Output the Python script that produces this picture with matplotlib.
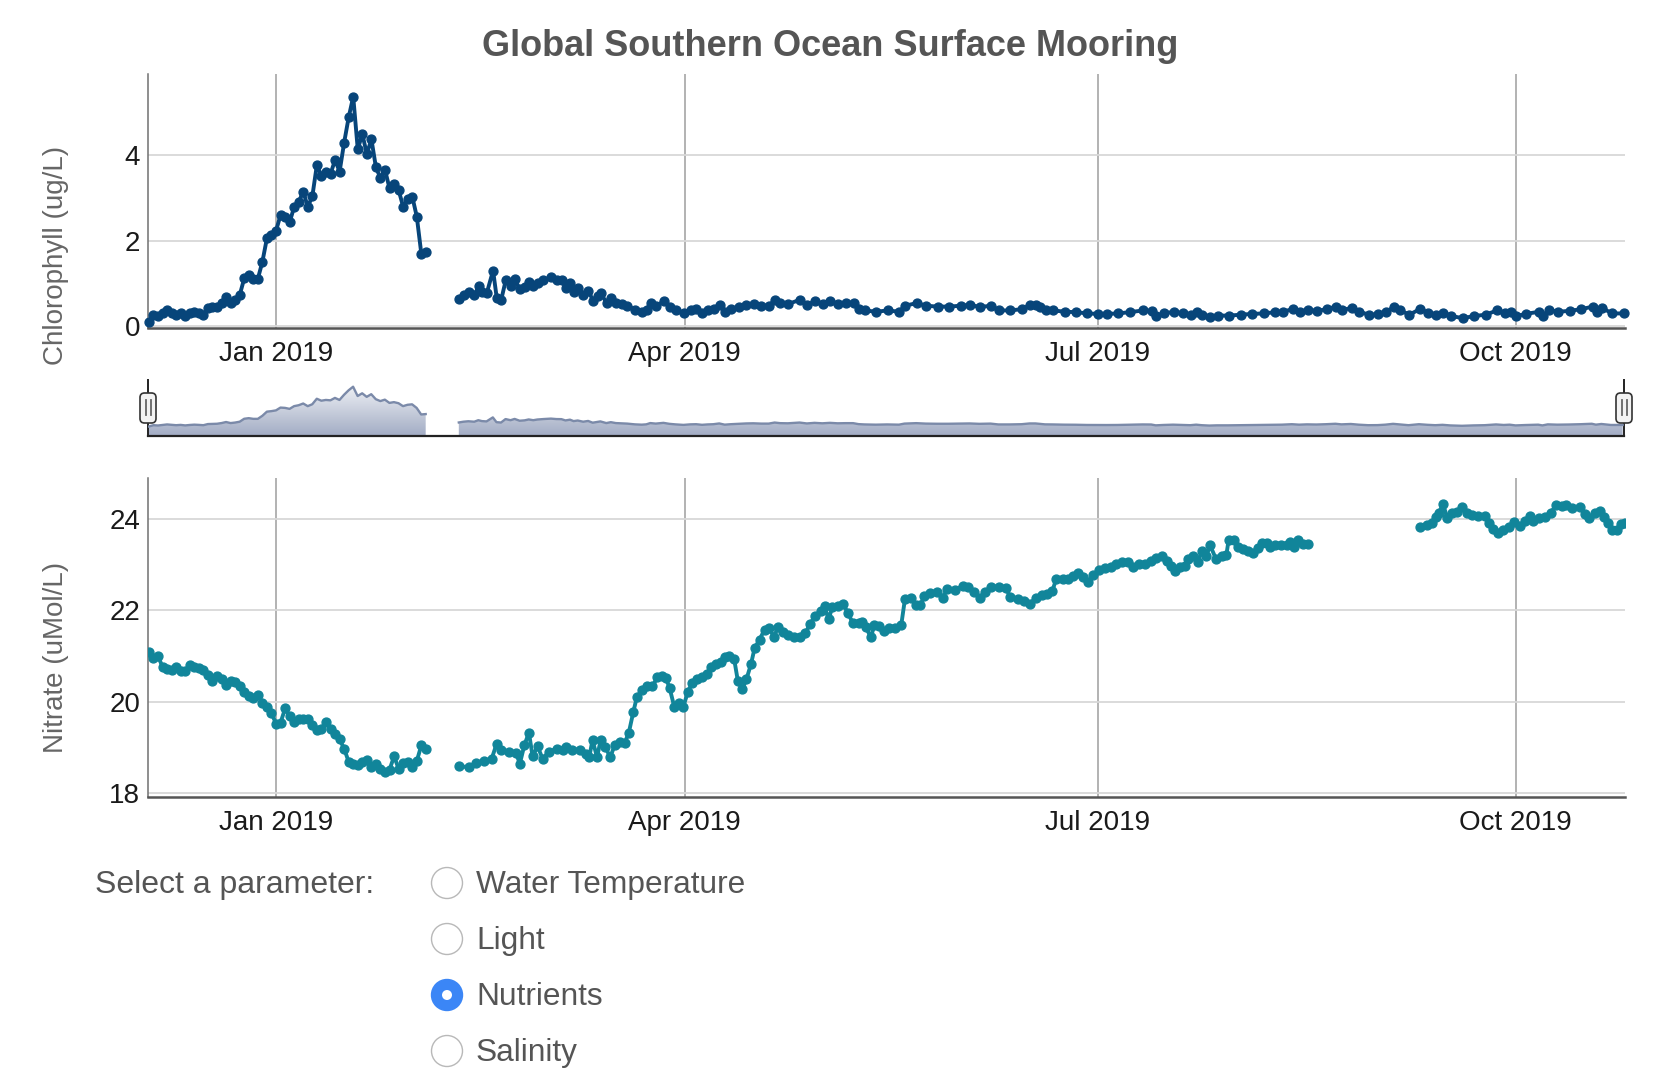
import matplotlib
matplotlib.use("Agg")
import matplotlib.pyplot as plt
import matplotlib.dates as mdates
import numpy as np
import pandas as pd
from matplotlib.colors import LinearSegmentedColormap
from matplotlib.lines import Line2D
from matplotlib.patches import Circle, FancyBboxPatch
from matplotlib.path import Path

plt.rcParams["font.family"] = ["Liberation Sans", "DejaVu Sans"]

# days are counted from 2019-01-01
chl_seg1_day = list(range(-28, 34))
chl_seg1_val = [0.10, 0.27, 0.23, 0.30, 0.37, 0.32, 0.27, 0.31, 0.24, 0.30,
                0.34, 0.31, 0.27, 0.42, 0.44, 0.46, 0.55, 0.69, 0.55, 0.62,
                0.73, 1.12, 1.20, 1.11, 1.11, 1.51, 2.06, 2.13, 2.23, 2.60,
                2.56, 2.43, 2.79, 2.91, 3.14, 2.79, 3.04, 3.77, 3.51, 3.61,
                3.56, 3.88, 3.61, 4.29, 4.88, 5.36, 4.13, 4.49, 4.02, 4.37,
                3.71, 3.46, 3.65, 3.22, 3.32, 3.18, 2.79, 2.97, 3.03, 2.56,
                1.69, 1.74]
chl_seg2_day = [40.3, 41.3, 42.4, 43.7, 44.6, 45.4, 46.4, 47.8, 48.6, 49.6,
                50.6, 51.7, 52.6, 53.7, 54.8, 55.7, 56.7, 57.6, 58.9, 60.6,
                61.8, 62.9, 63.8, 64.8, 65.6, 66.5, 67.7, 68.8, 69.8, 70.9,
                71.5, 72.8, 73.8, 74.9, 76.2, 77.4, 79.1, 80.6, 81.6, 82.5,
                83.7, 85.4, 86.7, 88.0, 89.8, 91.3, 92.6, 93.9, 95.1, 96.4,
                97.7, 98.9, 100.2, 101.9, 103.6, 105.2, 106.9, 108.6, 109.9, 111.1,
                112.8, 115.4, 117.0, 118.7, 120.4, 122.1, 123.8, 125.5, 127.2, 128.4,
                129.7, 132.2, 134.7, 137.3, 138.5, 141.1, 143.2, 145.7, 148.2, 150.8,
                152.9, 155.0, 157.5, 159.2, 161.7, 164.3, 166.1, 167.4, 168.2, 169.5,
                171.2, 173.7, 176.2, 178.7, 181.0, 183.0, 185.5, 188.0, 191.0, 192.9,
                193.9, 195.6, 197.7, 199.8, 201.5, 202.8, 204.0, 205.7, 207.4, 209.9,
                212.5, 215.0, 217.5, 220.1, 221.7, 223.9, 225.5, 227.2, 229.3, 231.4,
                233.5, 234.8, 236.9, 238.6, 240.7, 242.8, 244.5, 246.2, 247.5, 249.6,
                251.9, 253.8, 255.5, 257.1, 258.8, 261.4, 263.9, 266.4, 268.9, 270.6,
                271.9, 273.2, 275.3, 278.2, 279.1, 280.3, 282.4, 284.9, 287.5, 290.0,
                290.9, 292.1, 294.2, 296.8]
chl_seg2_val = [0.63, 0.73, 0.79, 0.73, 0.93, 0.81, 0.77, 1.30, 0.67, 0.62,
                1.08, 0.93, 1.10, 0.86, 0.91, 1.03, 0.93, 1.02, 1.08, 1.14,
                1.08, 1.07, 0.90, 1.00, 0.81, 0.89, 0.73, 0.83, 0.60, 0.71,
                0.77, 0.55, 0.67, 0.55, 0.52, 0.48, 0.38, 0.34, 0.38, 0.55,
                0.48, 0.58, 0.45, 0.38, 0.31, 0.38, 0.40, 0.32, 0.37, 0.40,
                0.50, 0.34, 0.40, 0.45, 0.50, 0.52, 0.48, 0.48, 0.62, 0.54,
                0.52, 0.62, 0.50, 0.58, 0.52, 0.58, 0.52, 0.54, 0.54, 0.41,
                0.37, 0.34, 0.37, 0.34, 0.48, 0.54, 0.48, 0.46, 0.46, 0.48,
                0.50, 0.45, 0.48, 0.37, 0.37, 0.40, 0.50, 0.50, 0.45, 0.38,
                0.37, 0.34, 0.33, 0.30, 0.29, 0.29, 0.30, 0.33, 0.37, 0.36,
                0.25, 0.30, 0.34, 0.30, 0.27, 0.34, 0.27, 0.22, 0.25, 0.25,
                0.27, 0.29, 0.30, 0.33, 0.34, 0.40, 0.34, 0.38, 0.36, 0.40,
                0.46, 0.38, 0.43, 0.34, 0.27, 0.28, 0.34, 0.45, 0.38, 0.27,
                0.40, 0.32, 0.27, 0.32, 0.24, 0.19, 0.24, 0.27, 0.37, 0.30,
                0.34, 0.24, 0.29, 0.34, 0.24, 0.38, 0.34, 0.36, 0.40, 0.46,
                0.34, 0.43, 0.30, 0.30]

nit_seg1_day = list(range(-28, 34))
nit_seg1_val = [21.09, 20.95, 21.00, 20.76, 20.71, 20.69, 20.76, 20.67, 20.68, 20.80,
                20.76, 20.73, 20.69, 20.58, 20.46, 20.56, 20.49, 20.36, 20.45, 20.42,
                20.35, 20.21, 20.13, 20.07, 20.14, 19.98, 19.89, 19.74, 19.52, 19.54,
                19.85, 19.68, 19.56, 19.62, 19.61, 19.62, 19.48, 19.38, 19.41, 19.56,
                19.39, 19.30, 19.17, 18.97, 18.68, 18.63, 18.61, 18.68, 18.73, 18.57,
                18.64, 18.53, 18.46, 18.51, 18.80, 18.53, 18.66, 18.68, 18.57, 18.70,
                19.04, 18.97]
nit_seg2_day = [40.3, 42.4, 44.1, 45.8, 47.5, 48.6, 49.6, 51.3, 52.8, 53.7,
                54.7, 55.7, 56.5, 57.6, 58.7, 60.1, 61.8, 63.1, 63.9, 65.2,
                66.9, 68.2, 69.0, 69.7, 70.7, 71.5, 72.5, 73.6, 74.6, 75.7,
                76.8, 77.7, 78.7, 79.5, 80.6, 81.8, 82.9, 84.0, 85.0, 85.9,
                86.7, 87.7, 88.8, 89.7, 90.7, 91.6, 92.8, 93.9, 94.9, 95.8,
                97.0, 98.1, 98.9, 99.8, 100.9, 101.7, 102.7, 103.6, 104.6, 105.4,
                106.5, 107.6, 108.6, 109.7, 110.5, 111.6, 112.8, 114.1, 115.4, 116.6,
                117.7, 118.7, 120.0, 120.8, 121.7, 122.5, 123.8, 124.9, 125.9, 127.0,
                128.3, 129.1, 129.9, 131.0, 131.8, 132.9, 133.9, 135.0, 136.4, 137.7,
                138.5, 139.8, 140.9, 141.9, 142.8, 144.0, 145.5, 146.8, 147.8, 149.5,
                151.2, 152.5, 153.7, 155.0, 156.2, 157.5, 159.2, 160.7, 161.7, 163.4,
                164.7, 166.1, 167.4, 168.6, 169.9, 171.0, 171.8, 173.3, 174.5, 175.5,
                176.6, 177.7, 178.9, 180.0, 181.3, 182.5, 183.8, 185.1, 186.3, 187.6,
                188.7, 190.1, 191.4, 192.7, 193.9, 195.2, 196.3, 197.1, 198.0, 199.0,
                200.1, 200.8, 201.9, 203.0, 203.9, 204.9, 205.7, 207.0, 208.3, 209.3,
                209.8, 211.0, 211.8, 212.9, 214.1, 215.2, 216.3, 217.1, 218.2, 219.0,
                220.1, 221.3, 222.6, 223.4, 224.3, 225.1, 226.1, 227.2]
nit_seg2_val = [18.59, 18.56, 18.66, 18.70, 18.75, 19.08, 18.94, 18.89, 18.88, 18.64,
                19.05, 19.32, 18.80, 19.02, 18.75, 18.90, 18.97, 18.95, 19.01, 18.94,
                18.95, 18.85, 18.79, 19.16, 18.78, 19.16, 19.01, 18.78, 19.05, 19.12,
                19.10, 19.32, 19.78, 20.11, 20.25, 20.34, 20.34, 20.53, 20.56, 20.51,
                20.29, 19.89, 19.97, 19.89, 20.21, 20.40, 20.49, 20.54, 20.60, 20.76,
                20.82, 20.87, 20.97, 21.00, 20.93, 20.46, 20.27, 20.49, 20.82, 21.17,
                21.36, 21.58, 21.61, 21.41, 21.64, 21.53, 21.46, 21.41, 21.41, 21.51,
                21.71, 21.88, 21.99, 22.09, 21.80, 22.07, 22.09, 22.14, 21.95, 21.73,
                21.72, 21.75, 21.63, 21.41, 21.68, 21.65, 21.55, 21.61, 21.62, 21.68,
                22.24, 22.26, 22.12, 22.12, 22.31, 22.39, 22.41, 22.28, 22.46, 22.45,
                22.53, 22.52, 22.41, 22.26, 22.41, 22.52, 22.52, 22.50, 22.29, 22.24,
                22.21, 22.15, 22.28, 22.34, 22.36, 22.43, 22.68, 22.68, 22.68, 22.75,
                22.82, 22.72, 22.63, 22.77, 22.88, 22.92, 22.96, 23.01, 23.05, 23.07,
                22.96, 23.01, 23.02, 23.09, 23.15, 23.18, 23.09, 22.97, 22.86, 22.96,
                22.97, 23.12, 23.18, 23.07, 23.29, 23.18, 23.43, 23.13, 23.19, 23.21,
                23.54, 23.54, 23.39, 23.34, 23.29, 23.26, 23.36, 23.48, 23.48, 23.39,
                23.43, 23.43, 23.43, 23.50, 23.39, 23.54, 23.45, 23.45]
nit_seg3_day = [251.9, 253.4, 254.6, 255.5, 256.1, 257.0, 258.0, 259.1, 260.1, 261.1,
                262.2, 263.5, 264.7, 266.2, 267.1, 268.1, 269.1, 270.2, 271.5, 272.7,
                274.0, 275.0, 276.1, 276.9, 278.2, 279.5, 280.7, 282.0, 283.3, 284.1,
                285.4, 287.1, 288.2, 289.2, 290.4, 291.7, 292.5, 293.4, 294.2, 295.3,
                296.3, 297.2]
nit_seg3_val = [23.82, 23.87, 23.91, 24.05, 24.13, 24.33, 24.02, 24.14, 24.16, 24.26,
                24.14, 24.09, 24.07, 24.07, 23.91, 23.78, 23.69, 23.75, 23.82, 23.93,
                23.85, 23.96, 24.07, 23.96, 24.02, 24.05, 24.14, 24.31, 24.29, 24.31,
                24.24, 24.26, 24.11, 24.02, 24.14, 24.18, 24.05, 23.91, 23.75, 23.75,
                23.89, 23.91]

month_ticks = ["2019-01-01", "2019-04-01", "2019-07-01", "2019-10-01"]
chl_ticks = [0, 2, 4]
nit_ticks = [18, 20, 22, 24]
options = ["Water Temperature", "Light", "Nutrients", "Salinity"]
selected = "Nutrients"

CHL = "#07457a"
NIT = "#11859a"
W, H = 1676, 1090


def to_dates(days):
    return pd.Timestamp("2019-01-01") + pd.to_timedelta(np.asarray(days, float), unit="D")


def box(l, t, r, b):
    return [l / W, 1 - b / H, (r - l) / W, (b - t) / H]


x_lo = pd.Timestamp("2019-01-01") - pd.Timedelta(days=28.2)
x_hi = pd.Timestamp("2019-01-01") + pd.Timedelta(days=297.1)

fig = plt.figure(figsize=(W / 100, H / 100), dpi=100)
ax1 = fig.add_axes(box(148, 74, 1625, 328))
ax2 = fig.add_axes(box(148, 478, 1625, 797))
axn = fig.add_axes(box(148, 380, 1624, 436))


def style(ax, ticks, ylim, pad):
    ax.set_xlim(x_lo, x_hi)
    ax.set_ylim(*ylim)
    ax.set_yticks(ticks)
    ax.set_xticks(pd.to_datetime(month_ticks))
    ax.xaxis.set_major_formatter(mdates.DateFormatter("%b %Y"))
    ax.tick_params(length=0, labelsize=20, colors="#1a1a1a")
    ax.tick_params(axis="x", pad=pad)
    ax.tick_params(axis="y", pad=5.5)
    for s in ["top", "right"]:
        ax.spines[s].set_visible(False)
    ax.spines["left"].set_color("#707070")
    ax.spines["left"].set_linewidth(1.1)
    ax.spines["bottom"].set_color("#555555")
    ax.spines["bottom"].set_linewidth(1.8)
    ax.grid(axis="y", color="#d8d8d8", lw=1.3)
    ax.grid(axis="x", color="#adadad", lw=1.3)
    ax.set_axisbelow(True)


style(ax1, chl_ticks, (-0.04, 5.89), 9.5)
style(ax2, nit_ticks, (17.91, 24.90), 9.0)

for d, v in [(chl_seg1_day, chl_seg1_val), (chl_seg2_day, chl_seg2_val)]:
    ax1.plot(to_dates(d), v, color=CHL, lw=2.8, marker="o", ms=6.4, clip_on=False, zorder=3)
for d, v in [(nit_seg1_day, nit_seg1_val), (nit_seg2_day, nit_seg2_val),
             (nit_seg3_day, nit_seg3_val)]:
    ax2.plot(to_dates(d), v, color=NIT, lw=2.8, marker="o", ms=6.4, zorder=3)

# navigator strip
nav_lo, nav_hi = -1.16, 6.25
paths = []
for d, v in [(chl_seg1_day, chl_seg1_val), (chl_seg2_day, chl_seg2_val)]:
    xn = mdates.date2num(to_dates(d))
    poly = axn.fill_between(xn, v, nav_lo, facecolor="none", edgecolor="none")
    paths += poly.get_paths()
    axn.plot(xn, v, color="#7b8aa9", lw=1.7, zorder=3)
cmap = LinearSegmentedColormap.from_list("nav", ["#a2acc4", "#eff1f5"])
im = axn.imshow(np.linspace(0, 1, 256).reshape(-1, 1), cmap=cmap, aspect="auto",
                origin="lower", extent=[mdates.date2num(x_lo), mdates.date2num(x_hi), nav_lo, 5.5])
im.set_clip_path(Path.make_compound_path(*paths), transform=axn.transData)
axn.set_xlim(x_lo, x_hi)
axn.set_ylim(nav_lo, nav_hi)
axn.axis("off")
axn.plot([0, 1], [0, 0], transform=axn.transAxes, color="#222222", lw=1.6, clip_on=False)
for xa in [0, 1]:
    axn.plot([xa, xa], [0, 1], transform=axn.transAxes, color="#222222", lw=1.4, clip_on=False)

for hx in [148, 1624]:
    fig.add_artist(FancyBboxPatch(((hx - 8) / 100, (H - 423) / 100), 0.16, 0.30,
                                  boxstyle="round,pad=0,rounding_size=0.045",
                                  transform=fig.dpi_scale_trans, fc="#f3f3f3",
                                  ec="#333333", lw=1.2, zorder=5))
    for dx in [-2.5, 2.5]:
        fig.add_artist(Line2D([(hx + dx) / 100] * 2, [(H - 415) / 100, (H - 400) / 100],
                              transform=fig.dpi_scale_trans, color="#666666", lw=1.3, zorder=6))

fig.text(830 / W, 1 - 55.5 / H, "Global Southern Ocean Surface Mooring", ha="center",
         va="baseline", fontsize=26, fontweight="bold", color="#555555")
fig.text(56 / W, 1 - 255 / H, "Chlorophyll (ug/L)", rotation=90, ha="center", va="center",
         fontsize=20, color="#666666")
fig.text(56 / W, 1 - 657 / H, "Nitrate (uMol/L)", rotation=90, ha="center", va="center",
         fontsize=20, color="#666666")

# parameter selector
fig.text(95 / W, 1 - 885 / H, "Select a parameter:", ha="left", va="center",
         fontsize=23, color="#555555")
for i, name in enumerate(options):
    cy = 883 + i * 56
    cx = 447
    if name == selected:
        fig.add_artist(Circle((cx / 100, (H - cy) / 100), 0.155, transform=fig.dpi_scale_trans,
                              fc="#3b86f6", ec="#3b86f6", lw=1.0))
        fig.add_artist(Circle((cx / 100, (H - cy) / 100), 0.05, transform=fig.dpi_scale_trans,
                              fc="white", ec="none"))
    else:
        fig.add_artist(Circle((cx / 100, (H - cy) / 100), 0.155, transform=fig.dpi_scale_trans,
                              fc="white", ec="#b8b8b8", lw=1.0))
    fig.text(476 / W, 1 - (cy + 2) / H, name, ha="left", va="center", fontsize=22.8,
             color="#555555")

fig.savefig("out.png", dpi=100)
